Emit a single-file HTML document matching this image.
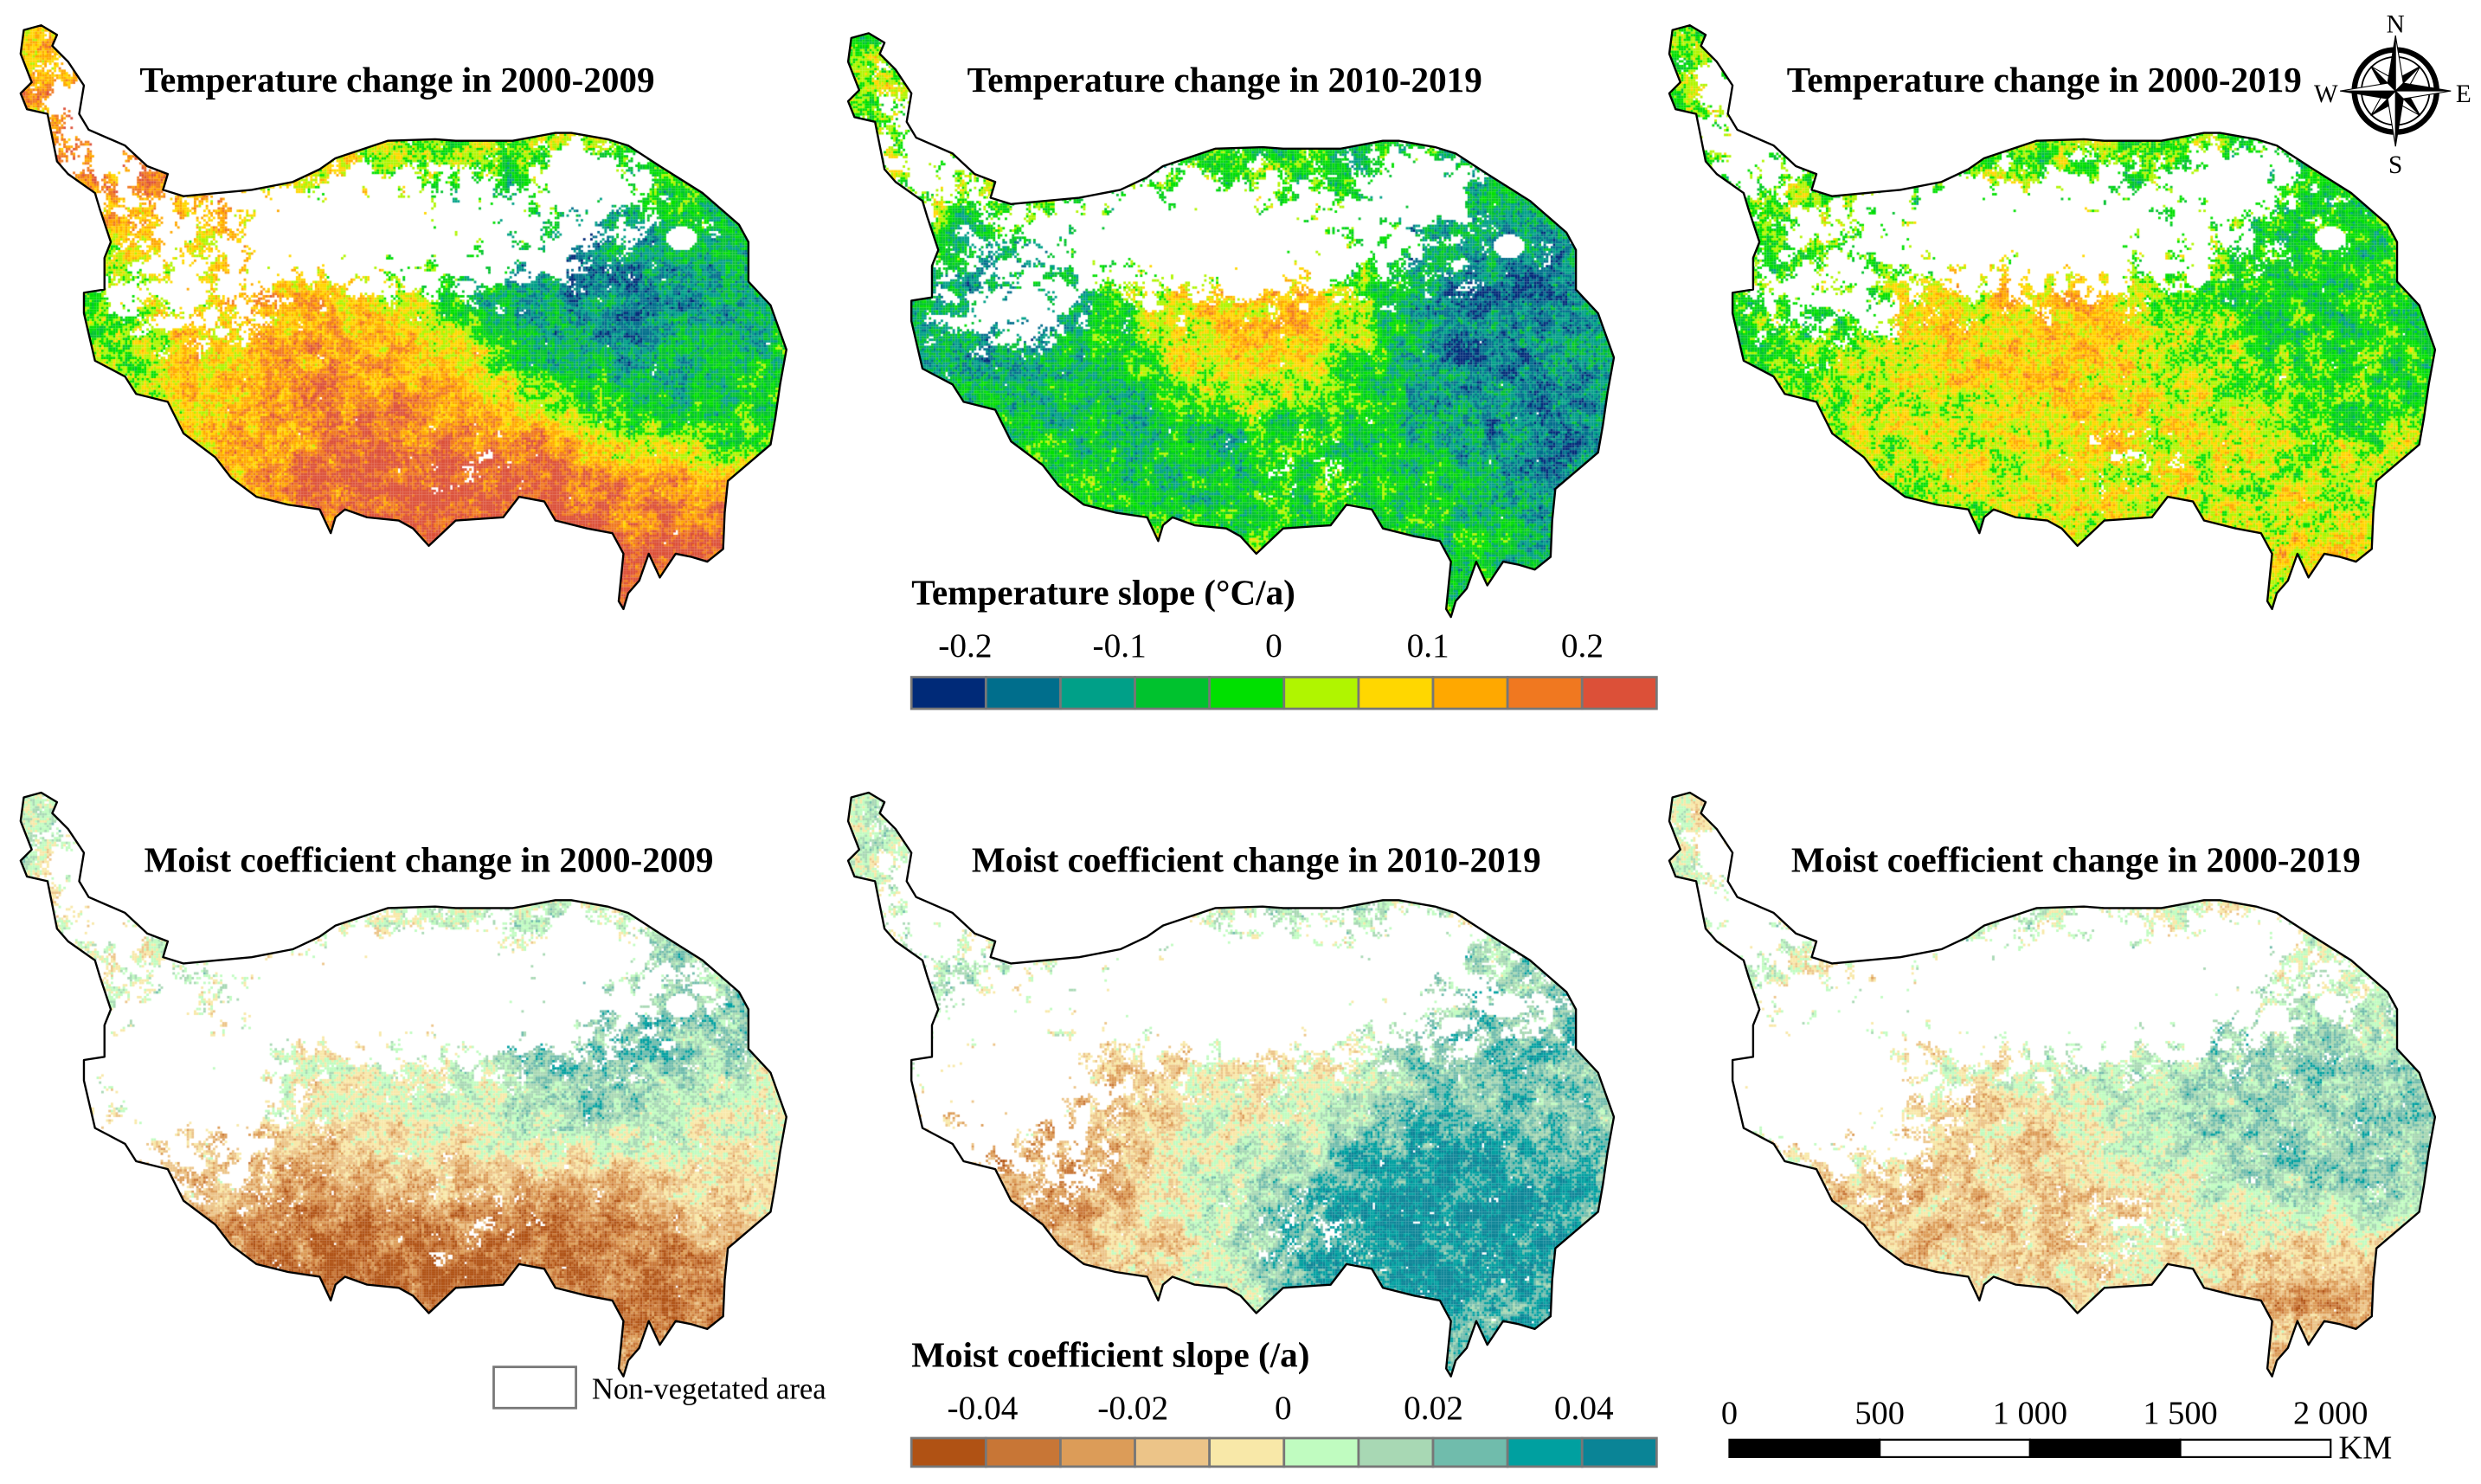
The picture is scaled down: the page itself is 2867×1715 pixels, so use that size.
<!DOCTYPE html>
<html><head><meta charset="utf-8">
<style>
html,body{margin:0;padding:0;background:#fff;}
#wrap{position:relative;width:2867px;height:1715px;overflow:hidden;}
#cv,#ov{position:absolute;left:0;top:0;}
text{font-family:"Liberation Serif",serif;}
</style></head>
<body>
<div id="wrap">
<canvas id="cv" width="2867" height="1715"></canvas>
<svg id="ov" width="2867" height="1715" viewBox="0 0 1568 938">
  <g id="outlines"></g>
  <g font-weight="bold" font-size="22.5" text-anchor="middle">
    <text x="251" y="58">Temperature change in 2000-2009</text>
    <text x="774" y="58">Temperature change in 2010-2019</text>
    <text x="1292" y="58">Temperature change in 2000-2019</text>
    <text x="271" y="551">Moist coefficient change in 2000-2009</text>
    <text x="794" y="551">Moist coefficient change in 2010-2019</text>
    <text x="1312" y="551">Moist coefficient change in 2000-2019</text>
  </g>
  <text x="576" y="382" font-weight="bold" font-size="22.5">Temperature slope (°C/a)</text>
  <g id="tempbar"></g>
  <text x="576" y="864" font-weight="bold" font-size="22.5">Moist coefficient slope (/a)</text>
  <g id="moistbar"></g>
  <rect x="312" y="864" width="52" height="26" fill="#fff" stroke="#777" stroke-width="1.5"/>
  <text x="374" y="884" font-size="19">Non-vegetated area</text>
  <g id="scalebar"></g>
  <g id="compass" transform="translate(1514,57.5)"></g>
</svg>
</div>
<script>
const tempColors=['#002a78','#006e8c','#00a088','#00c22e','#00e000','#b0f500','#ffd700','#ffa800','#f07820','#dc5038'];
const moistColors=['#b05214','#c87636','#dc9c58','#ecc488','#f8e8a8','#c0fcc0','#a8d8b4','#70bcac','#00a0a0','#0a8496'];
const tempTicks=[-0.2,-0.1,0,0.1,0.2];
const tempTickLabels=['-0.2','-0.1','0','0.1','0.2'];
const moistTicks=[-0.04,-0.02,0,0.02,0.04];
const moistTickLabels=['-0.04','-0.02','0','0.02','0.04'];
const scaleKm=[0,500,1000,1500,2000];
const scaleLabels=['0','500','1 000','1 500','2 000'];

const NS='http://www.w3.org/2000/svg';
function mk(tag,attrs,parent){const e=document.createElementNS(NS,tag);for(const k in attrs)e.setAttribute(k,attrs[k]);parent.appendChild(e);return e;}

const outline=[[15,19],[26,16],[36,22],[33,29],[43,39],[53,54],[50,72],[56,82],[79,92],[93,105],[106,110],[103,120],[116,124],[159,120],[185,115],[202,107],[212,100],[245,89],[275,88],[288,89],[324,89],[351,84],[361,84],[384,88],[397,92],[417,105],[444,122],[467,142],[473,153],[473,178],[487,193],[497,221],[493,243],[490,264],[487,281],[460,304],[458,324],[457,347],[447,355],[437,352],[427,350],[417,365],[410,350],[404,367],[397,375],[394,385],[391,380],[394,350],[387,337],[371,334],[351,329],[344,317],[328,314],[318,327],[288,329],[271,345],[261,334],[252,329],[232,327],[218,322],[212,327],[209,337],[202,322],[182,319],[162,314],[146,302],[136,289],[116,274],[106,254],[86,249],[79,238],[60,228],[53,198],[53,185],[66,183],[66,163],[70,153],[63,132],[60,122],[43,110],[36,102],[33,87],[30,72],[17,69],[13,59],[20,52],[13,34]];
const panels=[[0,0,'t',0],[523,5,'t',1],[1042,0,'t',2],[0,485,'m',3],[523,485,'m',4],[1042,485,'m',5]];
const blobs=[
 [[0.75,0.45,0],[0.85,0.5,0.3],[0.65,0.42,1.5],[0.9,0.35,3],[0.95,0.6,3.5],[0.8,0.62,2.5],[0.35,0.55,8],[0.25,0.55,6],[0.45,0.75,9.6],[0.6,0.8,9.6],[0.75,0.82,9],[0.85,0.92,9.2],[0.1,0.55,3.5],[0.1,0.2,8],[0.25,0.75,6.5],[0.55,0.6,6.5],[0.6,0.35,4]],
 [[0.85,0.5,0],[0.9,0.75,0.5],[0.75,0.35,2],[0.5,0.5,7.5],[0.55,0.45,7.5],[0.2,0.5,1.2],[0.3,0.6,2.5],[0.4,0.75,2],[0.6,0.7,3],[0.5,0.35,3.5],[0.65,0.85,4.5],[0.3,0.85,5.5],[0.1,0.2,5],[0.8,0.9,3]],
 [[0.5,0.55,7.2],[0.4,0.6,6.5],[0.55,0.75,6],[0.3,0.7,5],[0.8,0.4,3.2],[0.9,0.5,3.5],[0.15,0.5,4],[0.7,0.3,4],[0.85,0.9,6],[0.65,0.6,5.5]],
 [[0.4,0.8,-0.5],[0.55,0.82,-0.5],[0.75,0.8,0],[0.85,0.9,0],[0.3,0.75,1],[0.25,0.65,3],[0.5,0.6,4],[0.75,0.45,8],[0.85,0.35,6.5],[0.65,0.35,5],[0.2,0.45,5],[0.92,0.62,4]],
 [[0.75,0.7,9.2],[0.85,0.75,9.3],[0.65,0.82,8.8],[0.85,0.45,7.5],[0.55,0.45,3.5],[0.35,0.58,2.5],[0.25,0.68,1],[0.12,0.72,1.5],[0.4,0.85,3],[0.5,0.62,5.5],[0.6,0.3,5.5],[0.9,0.92,8]],
 [[0.4,0.65,3],[0.3,0.7,2.5],[0.5,0.8,3],[0.85,0.9,1],[0.75,0.5,6.5],[0.9,0.6,7.2],[0.6,0.4,5.5],[0.2,0.5,5],[0.65,0.85,4.2]]
];
const bases=[6,4,4.5,4.5,5,4.5];
function hash(i,j,s){let h=(i*374761393+j*668265263+s*982451653)|0;h=(h^(h>>>13))*1274126177|0;h=h^(h>>>16);return (h>>>0)/4294967296;}
function vnoise(x,y,sc,s){const fx=x/sc,fy=y/sc,i=Math.floor(fx),j=Math.floor(fy),a=fx-i,b=fy-j;
 const sa=a*a*(3-2*a),sb=b*b*(3-2*b);
 return (hash(i,j,s)*(1-sa)+hash(i+1,j,s)*sa)*(1-sb)+(hash(i,j+1,s)*(1-sa)+hash(i+1,j+1,s)*sa)*sb;}
function g(x,y,cx,cy,rx,ry){const dx=(x-cx)/rx,dy=(y-cy)/ry;return Math.exp(-(dx*dx+dy*dy));}
function whiteP(x,y,row){
 let p=0.12;
 p=Math.max(p,0.93*g(x,y,240,145,175,48));
 p=Math.max(p,0.97*g(x,y,370,115,50,32));
 p=Math.max(p,0.85*g(x,y,65,75,45,70));
 p=Math.max(p,0.68*g(x,y,120,180,70,45));
 p=Math.max(p,0.35*g(x,y,300,290,60,30));
 if(g(x,y,430,150,10,8)>0.4)p=1;
 if(row===1){p=Math.max(p,0.88*g(x,y,110,190,90,80));p=Math.max(p,0.95*g(x,y,260,140,190,55));p+=0.05;}
 return p;
}
const cv=document.getElementById('cv');const ctx=cv.getContext('2d');
ctx.scale(2867/1568,1715/938);
const step=1.5;
panels.forEach(([ox,oy,kind,k])=>{
 ctx.save();
 ctx.translate(ox,oy);
 ctx.beginPath();outline.forEach((p,i)=>i?ctx.lineTo(p[0],p[1]):ctx.moveTo(p[0],p[1]));ctx.closePath();ctx.clip();
 const cols=kind==='t'?tempColors:moistColors;const bl=blobs[k];
 for(let y=14;y<388;y+=step){for(let x=10;x<500;x+=step){
  const u=(x-13)/484,v=(y-16)/369;
  const xi=Math.round(x/step),yi=Math.round(y/step);
  const pw=whiteP(x,y,kind==='t'?0:1);
  const wn=vnoise(x,y,7,k%3+11)*0.55+vnoise(x,y,3,k+21)*0.2+hash(xi,yi,7+k)*0.25;
  if(wn<pw)continue;
  let sw=0.3,sv=bases[k]*0.3;
  for(const b of bl){const w=g(u,v,b[0],b[1],0.13,0.13);sw+=w;sv+=w*b[2];}
  let val=sv/sw+(vnoise(x,y,10,k+30)-0.5)*2.2+(vnoise(x,y,3,k+40)-0.5)*1.6+(hash(xi,yi,k+50)-0.5)*1.8;
  let ci=Math.max(0,Math.min(9,Math.round(val)));
  ctx.fillStyle=cols[ci];ctx.fillRect(x,y,step+0.05,step+0.05);
 }}
 ctx.restore();
});
const og=document.getElementById('outlines');
const d='M'+outline.map(p=>p.join(',')).join('L')+'Z';
panels.forEach(([ox,oy,kind,k])=>{
 const p=mk('path',{d:d,transform:`translate(${ox},${oy})`,fill:'none',stroke:'#000','stroke-width':1.3,'stroke-linejoin':'round'},og);
 
 
});
function colorbar(gid,colors,ticks,labels,y0,y1,ly,xs){
 const g0=document.getElementById(gid);const x0=576,x1=1047,w=(x1-x0)/colors.length;
 colors.forEach((c,i)=>{const r=mk('rect',{x:x0+i*w,y:y0,width:w,height:y1-y0,fill:c,stroke:'#777','stroke-width':1.5},g0);
  
  });
 ticks.forEach((t,i)=>{const tx=mk('text',{x:xs(t),y:ly,'font-size':21.5,'text-anchor':'middle'},g0);tx.textContent=labels[i];
  
  });
}
colorbar('tempbar',tempColors,tempTicks,tempTickLabels,428,448,415,v=>805+v*975);
colorbar('moistbar',moistColors,moistTicks,moistTickLabels,909,927,897,v=>811+v*4750);
const sb=document.getElementById('scalebar');const kx=km=>1093+km*0.19;
for(let i=0;i<scaleKm.length-1;i++){
 const r=mk('rect',{x:kx(scaleKm[i]),y:910,width:kx(scaleKm[i+1])-kx(scaleKm[i]),height:11,fill:i%2?'#fff':'#000',stroke:'#000','stroke-width':1.2},sb);
 
 
}
scaleKm.forEach((km,i)=>{const t=mk('text',{x:kx(km),y:900,'font-size':21,'text-anchor':'middle'},sb);t.textContent=scaleLabels[i];
 
 });
const km=mk('text',{x:1478,y:922,'font-size':21},sb);km.textContent='KM';


const cg=document.getElementById('compass');
mk('circle',{r:26,fill:'none',stroke:'#000','stroke-width':3.5},cg);
mk('circle',{r:21.5,fill:'none',stroke:'#000','stroke-width':1},cg);
function star(R,r,rot){for(let i=0;i<4;i++){const a=(i*90+rot)*Math.PI/180;
 const tip=[R*Math.sin(a),-R*Math.cos(a)];
 const l=[r*Math.sin(a-Math.PI/4),-r*Math.cos(a-Math.PI/4)],rr=[r*Math.sin(a+Math.PI/4),-r*Math.cos(a+Math.PI/4)];
 mk('polygon',{points:`0,0 ${tip} ${l}`,fill:'#000',stroke:'#000','stroke-width':0.6},cg);
 mk('polygon',{points:`0,0 ${tip} ${rr}`,fill:'#fff',stroke:'#000','stroke-width':0.6},cg);}}
star(22,7,45);star(35,7,0);
[['N',0,-37],['S',0,52],['W',-44,7],['E',43,7]].forEach(([s,x,y])=>{const t=mk('text',{x:x,y:y,'font-size':16,'text-anchor':'middle'},cg);t.textContent=s;
 
 });
</script>
</body></html>
